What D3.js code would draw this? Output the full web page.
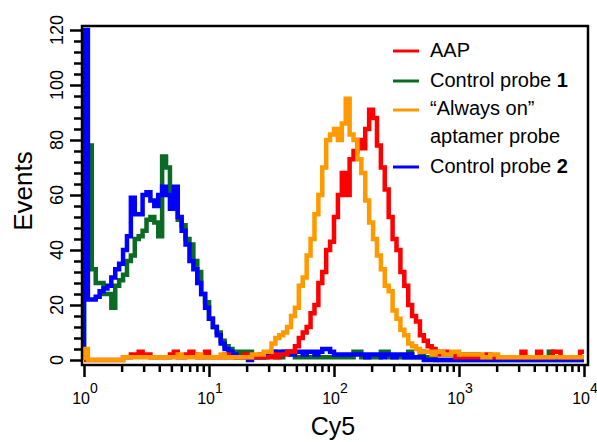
<!DOCTYPE html>
<html>
<head>
<meta charset="utf-8">
<script src="https://cdn.jsdelivr.net/npm/d3@7"></script>
<style>
  html, body { margin: 0; padding: 0; background: #fff; }
  svg { display: block; font-family: "Liberation Sans", Arial, sans-serif; }
</style>
</head>
<body>
<svg id="chart" width="597" height="442"></svg>
<script>
// ---- data: histogram counts, 32 bins per decade from 10^0 to 10^4 ----
const binsPerDecade = 32;
const xTickDecades = [0, 1, 2, 3, 4];
const yTickValues = [0, 20, 40, 60, 80, 100, 120];
const xLabel = "Cy5";
const yLabel = "Events";

const seriesNames = ["AAP", "Control probe 1", "“Always on” aptamer probe", "Control probe 2"];
const seriesColors = ["#ff0000", "#0b6a24", "#ff9900", "#0000ff"];

const aap = [
  0,0,0,0,0,0,0,0,0,0,
  1,1,2,2,3,2,2,1,1,1,
  1,1,2,3,1,1,2,3,2,1,
  1,3,1,1,1,1,2,1,1,1,
  1,2,1,1,1,2,1,1,2,1,
  2,2,3,3,5,8,10,12,17,20,
  28,32,40,43,52,60,68,60,73,76,
  80,77,84,91,88,78,70,62,52,44,
  40,32,27,20,16,14,9,7,5,4,
  3,2,3,2,2,1,2,1,2,1,
  2,1,1,2,1,1,1,1,1,1,
  1,1,3,1,1,1,3,1,1,1,
  3,3,1,1,1,1,1,3
];
const control1 = [
  78,78,33,28,28,24,24,19,27,29,
  31,36,38,44,45,47,51,52,50,45,
  74,70,60,58,51,49,44,42,36,32,
  24,21,15,12,10,7,5,4,3,3,
  2,3,3,1,1,1,1,2,3,1,
  1,3,3,2,1,1,1,1,1,1,
  1,1,1,1,1,1,1,1,1,3,
  3,1,1,1,1,1,3,3,1,1,
  1,1,1,3,1,1,3,1,1,1,
  0,0,0,0,0,0,0,0,0,0,
  0,0,0,0,0,0,0,0,0,0,
  0,0,0,0,0,0,0,0,0,3,
  0,0,0,0,0,0,0,0
];
const alwaysOn = [
  4,0,0,0,0,0,0,0,0,0,
  1,1,1,1,1,1,1,1,1,1,
  1,1,1,1,2,1,1,1,1,2,
  1,1,1,1,1,2,1,1,1,1,
  1,1,1,2,2,2,3,3,6,8,
  9,10,12,16,19,27,30,38,44,53,
  60,70,80,82,84,80,86,95,82,80,
  73,68,58,50,44,38,33,27,25,18,
  15,11,9,6,5,4,3,3,3,2,
  3,3,2,2,3,3,2,2,2,2,
  2,2,1,1,2,2,1,1,1,1,
  1,1,1,1,1,1,1,1,1,1,
  1,1,1,1,1,1,1,1
];
const control2 = [
  120,22,22,23,25,26,27,30,33,35,
  40,45,59,53,53,60,61,58,56,60,
  63,60,55,63,52,47,42,36,33,28,
  24,19,15,12,9,6,4,3,2,1,
  1,1,0,1,1,1,2,2,2,3,
  3,3,3,2,3,3,2,3,3,2,
  3,4,4,3,2,2,2,2,2,2,
  2,2,1,2,2,2,1,2,2,1,
  2,2,1,2,1,1,1,0,0,0,
  0,0,0,0,0,0,0,0,0,0,
  0,0,0,0,0,0,0,0,0,0,
  0,0,0,0,0,0,0,0,0,0,
  0,0,0,0,0,0,0,0
];
const seriesValues = [aap, control1, alwaysOn, control2];
// drawing order (bottom to top)
const drawOrder = [1, 3, 0, 2];

// ---- layout ----
const svg = d3.select("#chart");
const frame = { left: 82, right: 588, top: 26, bottom: 365 };
const x = d3.scaleLog().domain([1, 1e4]).range([84, 584]);
const y = d3.scaleLinear().domain([0, 120]).range([360, 30]);

svg.append("defs").append("clipPath").attr("id", "plotclip")
  .append("rect")
  .attr("x", frame.left).attr("y", frame.top)
  .attr("width", frame.right - frame.left).attr("height", frame.bottom - frame.top);

// ---- curves ----
const line = d3.line().x(d => x(d[0])).y(d => y(d[1])).curve(d3.curveStepAfter);
const plot = svg.append("g").attr("clip-path", "url(#plotclip)");
drawOrder.forEach(si => {
  const vals = seriesValues[si];
  const pts = [[1, 0]];
  vals.forEach((v, i) => pts.push([Math.pow(10, i / binsPerDecade), v]));
  pts.push([Math.pow(10, vals.length / binsPerDecade), vals[vals.length - 1]]);
  plot.append("path")
    .attr("d", line(pts))
    .attr("fill", "none")
    .attr("stroke", seriesColors[si])
    .attr("stroke-width", 4.5)
    .attr("stroke-linejoin", "miter");
});

// ---- frame ----
svg.append("rect")
  .attr("x", frame.left).attr("y", frame.top)
  .attr("width", frame.right - frame.left).attr("height", frame.bottom - frame.top)
  .attr("fill", "none").attr("stroke", "#000").attr("stroke-width", 2.5);

// ---- x axis ticks ----
const xMinor = [];
for (let d = 0; d < 4; d++) for (let m = 2; m <= 9; m++) xMinor.push(m * Math.pow(10, d));
const xMajorVals = xTickDecades.map(d => Math.pow(10, d));
const xAxisMinor = d3.axisBottom(x).tickValues(xMinor).tickSize(7).tickFormat("");
const xAxisMajor = d3.axisBottom(x).tickValues(xMajorVals).tickSize(12).tickFormat("");
[xAxisMinor, xAxisMajor].forEach(ax => {
  const g = svg.append("g").attr("transform", `translate(0,${frame.bottom})`).call(ax);
  g.select(".domain").remove();
  g.selectAll("line").attr("stroke", "#000").attr("stroke-width", 2.5);
});
const xl = svg.append("g").selectAll("text").data(xTickDecades).join("text")
  .attr("x", d => x(Math.pow(10, d)) + 1)
  .attr("y", 404)
  .attr("text-anchor", "middle")
  .attr("font-size", 16)
  .attr("fill", "#000");
xl.append("tspan").text("10");
xl.append("tspan").attr("dy", -11).attr("font-size", 14).text(d => d);

// ---- y axis ticks ----
const yMinor = d3.range(0, 121, 4).filter(v => v % 20 !== 0);
const yAxisMinor = d3.axisLeft(y).tickValues(yMinor).tickSize(8).tickFormat("");
const yAxisMajor = d3.axisLeft(y).tickValues(yTickValues).tickSize(12).tickFormat("");
[yAxisMinor, yAxisMajor].forEach(ax => {
  const g = svg.append("g").attr("transform", `translate(${frame.left},0)`).call(ax);
  g.select(".domain").remove();
  g.selectAll("line").attr("stroke", "#000").attr("stroke-width", 2.5);
});
svg.append("g").selectAll("text").data(yTickValues).join("text")
  .attr("transform", d => `translate(63,${y(d)}) rotate(-90)`)
  .attr("text-anchor", "middle")
  .attr("font-size", 18)
  .attr("fill", "#000")
  .text(d => d);

// ---- axis titles ----
svg.append("text")
  .attr("x", 333).attr("y", 435)
  .attr("text-anchor", "middle")
  .attr("font-size", 25)
  .text(xLabel);
svg.append("text")
  .attr("transform", `translate(32,191) rotate(-90)`)
  .attr("text-anchor", "middle")
  .attr("font-size", 26)
  .text(yLabel);

// ---- legend ----
const legendRows = [
  { si: 0, lines: [["AAP", ""]], lineY: 51, base: [57] },
  { si: 1, lines: [["Control probe ", "1"]], lineY: 81, base: [87] },
  { si: 2, lines: [["“Always on”", ""], ["aptamer probe", ""]], lineY: 110, base: [115, 143] },
  { si: 3, lines: [["Control probe ", "2"]], lineY: 167, base: [173] }
];
const leg = svg.append("g");
legendRows.forEach(r => {
  leg.append("line")
    .attr("x1", 393).attr("x2", 419)
    .attr("y1", r.lineY).attr("y2", r.lineY)
    .attr("stroke", seriesColors[r.si]).attr("stroke-width", 3);
  r.lines.forEach((ln, k) => {
    const t = leg.append("text")
      .attr("x", 430).attr("y", r.base[k])
      .attr("font-size", 20).attr("fill", "#000");
    t.append("tspan").text(ln[0]);
    if (ln[1]) t.append("tspan").attr("font-weight", "bold").text(ln[1]);
  });
});
</script>
</body>
</html>
